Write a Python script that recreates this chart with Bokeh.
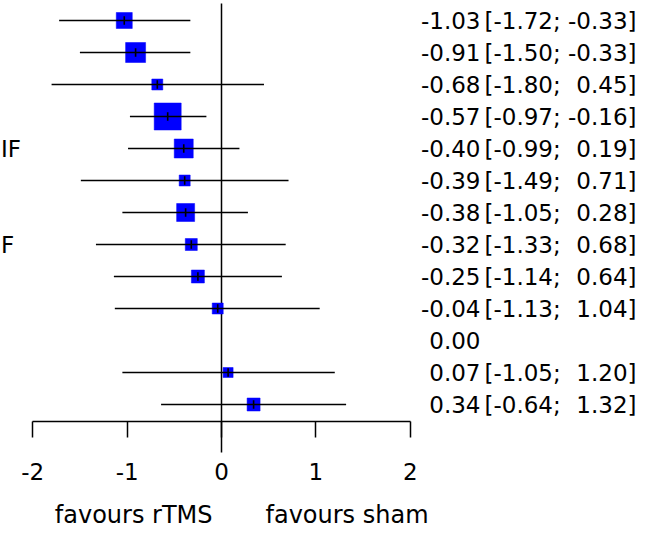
from bokeh.plotting import figure
from bokeh.models import (Range1d, LinearAxis, FixedTicker, ColumnDataSource,
                          PrintfTickFormatter)
from bokeh.core.properties import value
from bokeh.embed import file_html
from bokeh.resources import INLINE

# ---- data ----
estimate = [-1.03, -0.91, -0.68, -0.57, -0.40, -0.39, -0.38, -0.32, -0.25, -0.04, 0.00, 0.07, 0.34]
ci_lower = [-1.72, -1.50, -1.80, -0.97, -0.99, -1.49, -1.05, -1.33, -1.14, -1.13, None, -1.05, -0.64]
ci_upper = [-0.33, -0.33, 0.45, -0.16, 0.19, 0.71, 0.28, 0.68, 0.64, 1.04, None, 1.20, 1.32]
weight_px = [16, 20, 11, 27, 19, 11, 18, 12, 13, 11, 0, 10, 13]
study_labels = ["", "", "", "", "IF", "", "", "F", "", "", "", "", ""]
x_ticks = [-2, -1, 0, 1, 2]
label_left = "favours rTMS"
label_right = "favours sham"

# ---- layout constants ----
W, H = 638, 530
PX_PER_UNIT = 94.4
ZERO_PX = 221
ROW_PX = 32
FIRST_ROW_PX = 20
FONT = "DejaVu Sans"
FS = "23px"


def xpx(px):
    return (px - ZERO_PX) / PX_PER_UNIT


def ypx(px):
    return 1 + (px - FIRST_ROW_PX) / ROW_PX


rows = list(range(1, len(estimate) + 1))
x_range = Range1d(xpx(0), xpx(W))
y_range = Range1d(ypx(H), ypx(0))

p = figure(width=W, height=H, x_range=x_range, y_range=y_range,
           x_axis_type=None, y_axis_type=None, toolbar_location=None,
           output_backend="svg", min_border=0, outline_line_color=None)
p.grid.visible = False
p.background_fill_color = "white"
p.border_fill_color = "white"

# rows with a confidence interval
idx = [i for i in range(len(estimate)) if ci_lower[i] is not None]
src = ColumnDataSource(dict(
    y=[rows[i] for i in idx],
    est=[estimate[i] for i in idx],
    lo=[ci_lower[i] for i in idx],
    hi=[ci_upper[i] for i in idx],
    size=[weight_px[i] for i in idx],
    y0=[rows[i] - 0.13 for i in idx],
    y1=[rows[i] + 0.13 for i in idx],
))

# zero reference line
p.segment(x0=[0], y0=[ypx(3)], x1=[0], y1=[ypx(452)], line_color="black", line_width=1.5)

# squares (weights)
p.scatter(x="est", y="y", size="size", marker="square", source=src,
          fill_color="#0000FF", line_color="#0000FF", line_width=0.5)
# CI lines
p.segment(x0="lo", y0="y", x1="hi", y1="y", source=src, line_color="black", line_width=1.6)
# estimate tick
p.segment(x0="est", y0="y0", x1="est", y1="y1", source=src, line_color="black", line_width=1.6)

# right-hand text columns
est_src = ColumnDataSource(dict(y=rows, x=[xpx(480)] * len(rows),
                                t=[f"{e:.2f}" for e in estimate]))
p.text(x="x", y="y", text="t", source=est_src, text_align="right", text_baseline="middle",
       text_font=value(FONT), text_font_size=FS, text_color="black")
ci_src = ColumnDataSource(dict(
    y=[rows[i] for i in idx],
    xl=[xpx(484)] * len(idx),
    xr=[xpx(636)] * len(idx),
    tl=[f"[{ci_lower[i]:.2f};" for i in idx],
    tr=[f"{ci_upper[i]:.2f}]" for i in idx],
))
p.text(x="xl", y="y", text="tl", source=ci_src, text_align="left", text_baseline="middle",
       text_font=value(FONT), text_font_size=FS, text_color="black")
p.text(x="xr", y="y", text="tr", source=ci_src, text_align="right", text_baseline="middle",
       text_font=value(FONT), text_font_size=FS, text_color="black")

# study labels visible at the left edge
lab_idx = [i for i in range(len(study_labels)) if study_labels[i]]
lab_src = ColumnDataSource(dict(
    y=[rows[i] for i in lab_idx],
    x=[xpx(0.5)] * len(lab_idx),
    t=[study_labels[i] for i in lab_idx],
))
p.text(x="x", y="y", text="t", source=lab_src, text_align="left", text_baseline="middle",
       text_font=value(FONT), text_font_size=FS, text_color="black")

# x axis
xaxis = LinearAxis(ticker=FixedTicker(ticks=x_ticks), bounds=(x_ticks[0], x_ticks[-1]),
                   formatter=PrintfTickFormatter(format="%d"),
                   fixed_location=ypx(421),
                   major_tick_out=16, major_tick_in=0, minor_tick_out=0, minor_tick_in=0,
                   axis_line_width=1.5, axis_line_color="black",
                   major_tick_line_width=1.5, major_tick_line_color="black",
                   major_label_text_font=FONT, major_label_text_font_size="23px",
                   major_label_text_color="black", major_label_standoff=25)
p.add_layout(xaxis, "below")

# favours labels
fav_src = ColumnDataSource(dict(
    x=[xpx(212), xpx(265)],
    y=[ypx(514), ypx(514)],
    t=[label_left, label_right],
    align=["right", "left"],
))
p.text(x="x", y="y", text="t", source=fav_src, text_align="align",
       text_baseline="middle", text_font=value(FONT), text_font_size="24px",
       text_color="black")

open("out.html", "w").write(file_html(p, INLINE))
